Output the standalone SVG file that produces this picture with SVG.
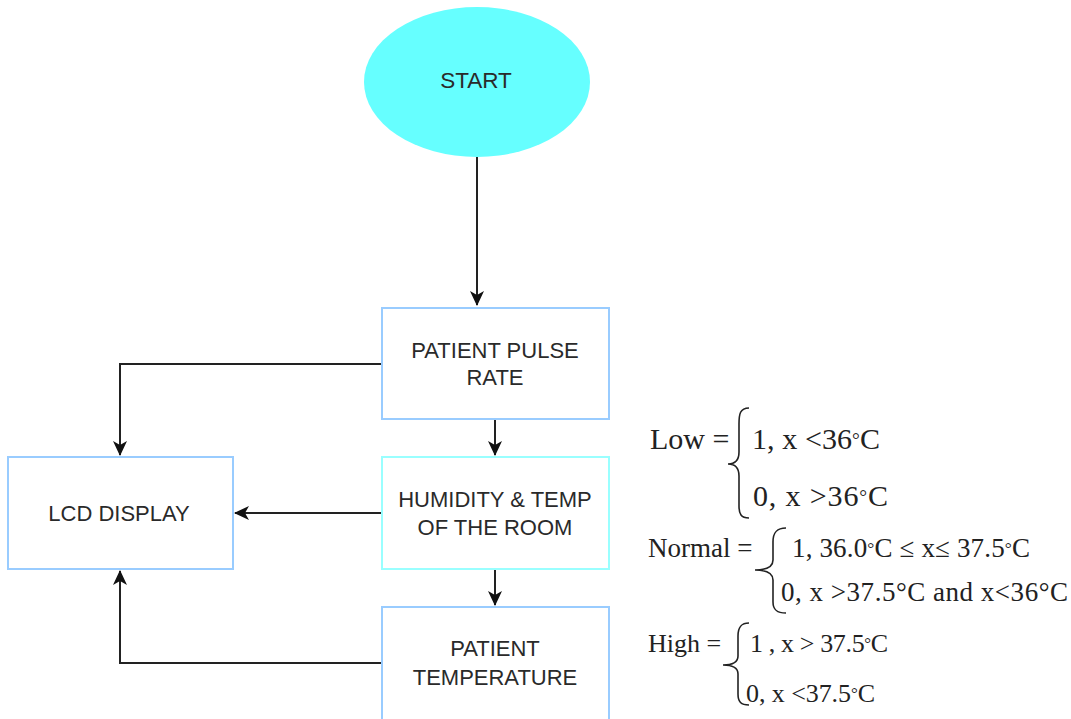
<svg xmlns="http://www.w3.org/2000/svg" width="1071" height="719" viewBox="0 0 1071 719">
<defs>
<style>
.box{fill:#fff;stroke:#99ccff;stroke-width:2}
.lbl{font-family:"Liberation Sans",Arial,sans-serif;font-size:22px;fill:#2a2a2a;text-anchor:middle}
.eq{font-family:"Liberation Serif","Times New Roman",serif;fill:#222}
.br{fill:none;stroke:#222;stroke-width:1.6}
.con{fill:none;stroke:#222;stroke-width:2}
.deg{font-size:65%}
</style>
<marker id="arr" markerUnits="userSpaceOnUse" markerWidth="16" markerHeight="14" refX="14" refY="7" orient="auto">
<path d="M0,0 L15,7 L0,14 L4,7 z" fill="#111"/>
</marker>
</defs>
<rect width="1071" height="719" fill="#fff"/>

<g id="connectors">
<path class="con" d="M477,157 V305" marker-end="url(#arr)"/>
<path class="con" d="M495,419 V455" marker-end="url(#arr)"/>
<path class="con" d="M495,569 V605" marker-end="url(#arr)"/>
<path class="con" d="M382,364 H120 V455" marker-end="url(#arr)"/>
<path class="con" d="M382,513 H235" marker-end="url(#arr)"/>
<path class="con" d="M382,663 H120 V571" marker-end="url(#arr)"/>
</g>

<g id="start">
<ellipse cx="477" cy="82" rx="113" ry="75" fill="#66ffff"/>
<text class="lbl" x="476" y="88" style="font-size:22.5px">START</text>
</g>

<g id="pulse">
<rect class="box" x="382" y="308" width="227" height="111"/>
<text class="lbl" x="495" y="358">PATIENT PULSE</text>
<text class="lbl" x="495" y="385">RATE</text>
</g>

<g id="humidity">
<rect class="box" x="382" y="457" width="227" height="112" style="stroke:#99ffff"/>
<text class="lbl" x="495" y="507">HUMIDITY &amp; TEMP</text>
<text class="lbl" x="495" y="535">OF THE ROOM</text>
</g>

<g id="temperature">
<rect class="box" x="382" y="607" width="227" height="118"/>
<text class="lbl" x="495" y="656">PATIENT</text>
<text class="lbl" x="495" y="685">TEMPERATURE</text>
</g>

<g id="lcd">
<rect class="box" x="8" y="457" width="225" height="112"/>
<text class="lbl" x="119" y="521">LCD DISPLAY</text>
</g>

<g id="equations">
<text class="eq" x="650" y="449" font-size="30">Low =</text>
<path class="br" d="M749,408 C740,408 739,414 739,424 V452 C739,460 735,464 728,464 C735,464 739,468 739,476 V506 C739,514 741,518 749,518"/>
<text class="eq" x="752" y="449" font-size="30" textLength="128" lengthAdjust="spacing">1, x &lt;36<tspan class="deg" baseline-shift="3">°</tspan>C</text>
<text class="eq" x="753" y="506" font-size="30" textLength="135" lengthAdjust="spacing">0, x &gt;36<tspan class="deg" baseline-shift="3">°</tspan>C</text>

<text class="eq" x="648" y="557" font-size="27">Normal =</text>
<path class="br" d="M786,528 C777,528 773,532 773,542 V560 C773,566 768,570 755,570 C768,570 773,574 773,580 V602 C773,610 777,613 786,613"/>
<text class="eq" x="792" y="557" font-size="27" textLength="238" lengthAdjust="spacing">1, 36.0<tspan class="deg" baseline-shift="3">°</tspan>C ≤ x≤ 37.5<tspan class="deg" baseline-shift="3">°</tspan>C</text>
<text class="eq" x="781" y="601" font-size="27" textLength="287" lengthAdjust="spacing">0, x &gt;37.5°C and x&lt;36°C</text>

<text class="eq" x="648" y="652" font-size="26">High =</text>
<path class="br" d="M749,623 C741,623 738,627 738,636 V656 C738,662 733,665 723,665 C733,665 738,668 738,674 V694 C738,702 741,705 749,705"/>
<text class="eq" x="750" y="652" font-size="26" textLength="138" lengthAdjust="spacing">1 , x &gt; 37.5<tspan class="deg" baseline-shift="3">°</tspan>C</text>
<text class="eq" x="746" y="702" font-size="26" textLength="129" lengthAdjust="spacing">0, x &lt;37.5<tspan class="deg" baseline-shift="3">°</tspan>C</text>
</g>
</svg>
